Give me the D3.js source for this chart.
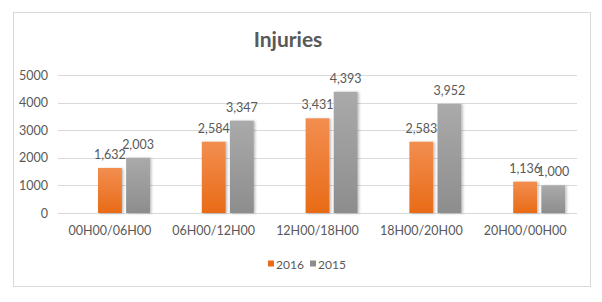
<!DOCTYPE html>
<html>
<head>
<meta charset="utf-8">
<script src="https://cdn.jsdelivr.net/npm/d3@7"></script>
<style>
  body { margin: 0; background: #fff; }
  svg { display: block; font-family: Lato, 'Liberation Sans', sans-serif; }
</style>
</head>
<body>
<div id="chart"></div>
<script>
const categories = ['00H00/06H00', '06H00/12H00', '12H00/18H00', '18H00/20H00', '20H00/00H00'];
const seriesNames = ['2016', '2015'];
const values2016 = [1632, 2584, 3431, 2583, 1136];
const values2015 = [2003, 3347, 4393, 3952, 1000];
const yTicks = [0, 1000, 2000, 3000, 4000, 5000];

const width = 602;
const height = 302;
const colors = { '2016': ['#f28e50', '#e96b17'], '2015': ['#aaaaaa', '#8d8d8d'] };
const textColor = '#595959';

const rows = categories.map((c, i) => ({ cat: c, '2016': values2016[i], '2015': values2015[i] }));

const svg = d3.select('#chart').append('svg').attr('width', width).attr('height', height);

const defs = svg.append('defs');
seriesNames.forEach((s) => {
  const grad = defs.append('linearGradient').attr('id', `grad${s}`).attr('x1', 0).attr('y1', 0).attr('x2', 0).attr('y2', 1);
  grad.append('stop').attr('offset', '0%').attr('stop-color', colors[s][0]);
  grad.append('stop').attr('offset', '100%').attr('stop-color', colors[s][1]);
});
const shadow = defs.append('filter').attr('id', 'shadow').attr('x', '-20%').attr('y', '-5%').attr('width', '150%').attr('height', '110%');
shadow.append('feDropShadow').attr('dx', 1.5).attr('dy', 0.5).attr('stdDeviation', 1).attr('flood-color', '#000').attr('flood-opacity', 0.25);

// chart frame
svg.append('rect').attr('x', 13.5).attr('y', 12.5).attr('width', 577).attr('height', 274)
  .attr('fill', '#fff').attr('stroke', '#d9d9d9').attr('stroke-width', 1);

svg.append('text').attr('x', 288).attr('y', 47).attr('text-anchor', 'middle')
  .attr('font-size', 21).attr('font-weight', 'bold').attr('fill', textColor).text('Injuries');

const plot = { left: 58, right: 577, top: 75, bottom: 213 };

const y = d3.scaleLinear().domain([0, 5000]).range([plot.bottom, plot.top]);
const x = d3.scaleBand().domain(categories).range([plot.left, plot.right]);
const x1 = d3.scaleBand().domain(seriesNames).range([40, 92]).paddingInner(0.15);

// gridlines
svg.append('g').selectAll('line').data(yTicks).join('line')
  .attr('x1', plot.left).attr('x2', plot.right)
  .attr('y1', (d) => Math.round(y(d)) + 0.5).attr('y2', (d) => Math.round(y(d)) + 0.5)
  .attr('stroke', '#d9d9d9').attr('stroke-width', 1);

// y axis labels
const yAxis = svg.append('g').attr('transform', `translate(${plot.left - 1},0)`)
  .call(d3.axisLeft(y).tickValues(yTicks).tickFormat(d3.format('d')).tickSize(0).tickPadding(9));
yAxis.select('.domain').remove();
yAxis.selectAll('text').attr('fill', textColor).attr('font-size', 12.5).attr('font-family', 'Lato, sans-serif');

// x axis labels
const xAxis = svg.append('g').attr('transform', `translate(0,${plot.bottom})`)
  .call(d3.axisBottom(x).tickSize(0).tickPadding(13));
xAxis.select('.domain').remove();
xAxis.selectAll('text').attr('fill', textColor).attr('font-size', 12.5).attr('font-family', 'Lato, sans-serif');

// bars
const groups = svg.append('g').selectAll('g').data(rows).join('g')
  .attr('transform', (d) => `translate(${x(d.cat)},0)`);

groups.selectAll('rect').data((d) => seriesNames.map((s) => ({ s, v: d[s] }))).join('rect')
  .attr('x', (d) => x1(d.s))
  .attr('y', (d) => y(d.v))
  .attr('width', x1.bandwidth())
  .attr('height', (d) => plot.bottom - y(d.v))
  .attr('fill', (d) => `url(#grad${d.s})`)
  .attr('filter', 'url(#shadow)');

groups.selectAll('text').data((d) => seriesNames.map((s) => ({ s, v: d[s] }))).join('text')
  .attr('x', (d) => x1(d.s) + x1.bandwidth() / 2)
  .attr('y', (d) => y(d.v) - 9)
  .attr('text-anchor', 'middle')
  .attr('font-size', 12.5).attr('fill', textColor)
  .text((d) => d3.format(',')(d.v));

// legend
const legend = svg.append('g').attr('transform', 'translate(268,264)');
const legendItems = legend.selectAll('g').data(seriesNames).join('g')
  .attr('transform', (d, i) => `translate(${i * 42},0)`);
legendItems.append('rect').attr('x', 0).attr('y', -3.5).attr('width', 6).attr('height', 6)
  .attr('fill', (d) => colors[d][1]);
legendItems.append('text').attr('x', 8).attr('y', 4.5).attr('font-size', 12)
  .attr('fill', textColor).text((d) => d);
</script>
</body>
</html>
